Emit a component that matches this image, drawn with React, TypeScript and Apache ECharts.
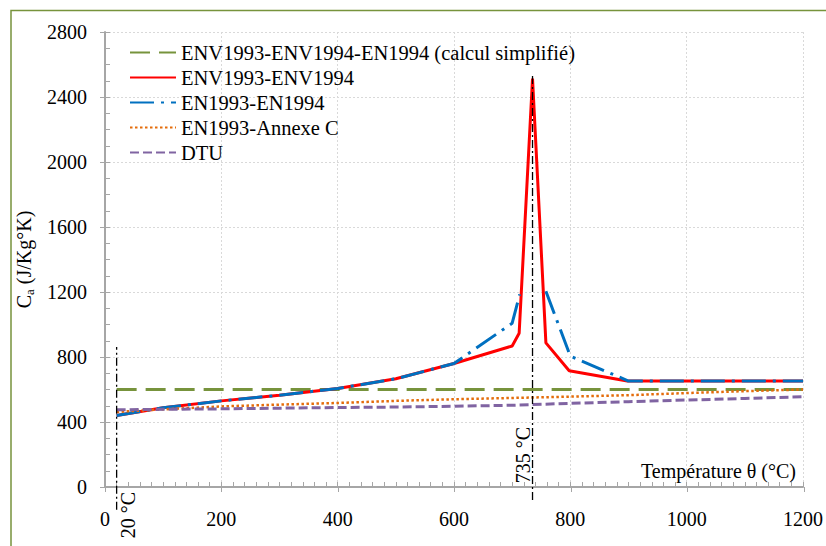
import React, { useEffect, useRef } from "react";
import * as echarts from "echarts";

const FONT = "'Liberation Serif', 'Times New Roman', serif";

// Legend names
const seriesNames = [
  "ENV1993-ENV1994-EN1994 (calcul simplifié)",
  "ENV1993-ENV1994",
  "EN1993-EN1994",
  "EN1993-Annexe C",
  "DTU",
];

// ENV1993-ENV1994-EN1994 (calcul simplifié)
const simplifiedX = [20, 1200];
const simplifiedY = [600, 600];

// ENV1993-ENV1994
const envX = [20, 100, 200, 300, 400, 500, 600, 700, 712, 735, 758, 798, 898, 1200];
const envY = [440, 488, 530, 565, 606, 666, 760, 868, 946, 2513, 887, 715, 652, 652];

// EN1993-EN1994
const enX = [20, 100, 200, 300, 400, 500, 600, 700, 713, 735, 758, 800, 900, 1200];
const enY = [440, 488, 530, 565, 606, 666, 760, 1008, 1186, null, 1205, 805, 652, 652];

// EN1993-Annexe C
const annexeX = [20, 100, 200, 300, 400, 500, 600, 700, 800, 900, 1000, 1100, 1200];
const annexeY = [462, 478, 496, 507, 517, 530, 540, 548, 556, 565, 578, 590, 600];

// DTU
const dtuX = [20, 100, 200, 300, 400, 500, 600, 700, 800, 900, 1000, 1100, 1200];
const dtuY = [475, 478, 481, 485, 489, 492, 497, 503, 515, 525, 535, 545, 555];

// Vertical reference lines (20 °C and 735 °C)
const markerX = [20, 735];
const markerBottom = [-140, -80];
const markerTop = [862, 2530];
const markerLabels = ["20 °C", "735 °C"];

// Axes
const xMin = 0, xMax = 1200, xInterval = 200;
const yMin = 0, yMax = 2800, yInterval = 400;

const pair = (xs: number[], ys: (number | null)[]) => xs.map((x, i) => [x, ys[i]]);

export default function App() {
  const ref = useRef<HTMLDivElement>(null);
  useEffect(() => {
    const chart = echarts.init(ref.current!, null, { renderer: "svg" });
    const gridBox = { left: 105, right: 22, top: 32, bottom: 59 };
    const axisColor = "#A6A6A6";
    const lineSeries = (name: string, data: any[], color: string, width: number, type: any) => ({
      name,
      type: "line",
      data,
      symbol: "none",
      showSymbol: false,
      connectNulls: false,
      xAxisIndex: 0,
      yAxisIndex: 0,
      lineStyle: { color, width, type, cap: "butt" },
      itemStyle: { color },
      emphasis: { disabled: true },
    });
    const plain = (v: number) => String(v);
    const option: any = {
      animation: false,
      backgroundColor: "#ffffff",
      textStyle: { fontFamily: FONT },
      grid: [
        { ...gridBox, containLabel: false },
        { ...gridBox, containLabel: false },
      ],
      legend: {
        orient: "vertical",
        left: 129,
        top: 42,
        padding: 0,
        itemWidth: 46,
        itemHeight: 14,
        itemGap: 4,
        data: seriesNames,
        selectedMode: false,
        itemStyle: { color: "transparent", opacity: 0, borderWidth: 0 },
        textStyle: { fontFamily: FONT, fontSize: 20.5, color: "#000", lineHeight: 20 },
      },
      xAxis: [
        {
          type: "value",
          gridIndex: 0,
          min: xMin,
          max: xMax,
          interval: xInterval,
          axisLine: { show: true, onZero: false, lineStyle: { color: axisColor, width: 2 } },
          axisTick: { show: true, inside: true, length: 5, lineStyle: { color: axisColor, width: 1 } },
          minorTick: { show: true, splitNumber: 10, length: 5, lineStyle: { color: axisColor, width: 1 } },
          axisLabel: { color: "#000", fontFamily: FONT, fontSize: 20, margin: 22, formatter: plain },
          splitLine: { show: true, lineStyle: { color: "#D9D9D9", width: 1, type: [2, 2] } },
        },
        {
          type: "value",
          gridIndex: 1,
          min: xMin,
          max: xMax,
          interval: xInterval,
          axisLine: { show: false },
          axisTick: { show: true, inside: false, length: 5, lineStyle: { color: axisColor, width: 1 } },
          axisLabel: { show: false },
          splitLine: { show: false },
        },
      ],
      yAxis: [
        {
          type: "value",
          gridIndex: 0,
          min: yMin,
          max: yMax,
          interval: yInterval,
          name: "{c|C}{s|a}{c| (J/Kg°K)}",
          nameLocation: "middle",
          nameGap: 63,
          nameRotate: 90,
          nameTextStyle: {
            fontFamily: FONT,
            rich: {
              c: { fontFamily: FONT, fontSize: 20, color: "#000", lineHeight: 24 },
              s: { fontFamily: FONT, fontSize: 13, color: "#000", lineHeight: 24, verticalAlign: "bottom" },
            },
          },
          axisLine: { show: true, onZero: false, lineStyle: { color: axisColor, width: 2 } },
          axisTick: { show: true, inside: true, length: 5, lineStyle: { color: axisColor, width: 1 } },
          minorTick: { show: true, splitNumber: 4, length: 5, lineStyle: { color: axisColor, width: 1 } },
          axisLabel: { color: "#000", fontFamily: FONT, fontSize: 20, margin: 18, formatter: plain },
          splitLine: { show: true, lineStyle: { color: "#D9D9D9", width: 1, type: [2, 2] } },
        },
        {
          type: "value",
          gridIndex: 1,
          min: yMin,
          max: yMax,
          interval: yInterval,
          axisLine: { show: false },
          axisTick: { show: true, inside: false, length: 5, lineStyle: { color: axisColor, width: 1 } },
          axisLabel: { show: false },
          splitLine: { show: false },
        },
      ],
      series: [
        lineSeries(seriesNames[0], pair(simplifiedX, simplifiedY), "#77933C", 3, [20, 9]),
        lineSeries(seriesNames[1], pair(envX, envY), "#FF0000", 3, "solid"),
        lineSeries(seriesNames[2], pair(enX, enY), "#0070C0", 3, [24, 7, 3, 7]),
        lineSeries(seriesNames[3], pair(annexeX, annexeY), "#E46C0A", 2.5, [2.5, 2.5]),
        lineSeries(seriesNames[4], pair(dtuX, dtuY), "#8064A2", 3, [9, 4]),
        ...markerX.map((x, i) => ({
          name: "marker" + i,
          type: "line",
          data: [
            [x, markerBottom[i]],
            [x, markerTop[i]],
          ],
          symbol: "none",
          clip: false,
          xAxisIndex: 0,
          yAxisIndex: 0,
          lineStyle: { color: "#000", width: 1.3, type: [8, 3, 2, 3] },
          emphasis: { disabled: true },
          z: 5,
        })),
      ],
    };
    chart.setOption(option);

    const p0 = chart.convertToPixel({ xAxisIndex: 0, yAxisIndex: 0 }, [markerX[0], 0]) as number[];
    const p1 = chart.convertToPixel({ xAxisIndex: 0, yAxisIndex: 0 }, [markerX[1], 0]) as number[];
    const pEnd = chart.convertToPixel({ xAxisIndex: 0, yAxisIndex: 0 }, [xMax, 0]) as number[];
    chart.setOption({
      graphic: [
        {
          type: "rect",
          shape: { x: 11, y: 10.5, width: 900, height: 600 },
          style: { fill: "none", stroke: "#77933C", lineWidth: 1.5 },
          silent: true,
          z: 100,
        },
        {
          type: "text",
          x: p0[0] + 11.5,
          y: p0[1] + 28,
          rotation: Math.PI / 2,
          style: { text: markerLabels[0], fontFamily: FONT, fontSize: 20, fill: "#000", align: "center", verticalAlign: "middle" },
          silent: true,
        },
        {
          type: "text",
          x: p1[0] - 9.5,
          y: p1[1] - 32,
          rotation: Math.PI / 2,
          style: { text: markerLabels[1], fontFamily: FONT, fontSize: 20, fill: "#000", align: "center", verticalAlign: "middle" },
          silent: true,
        },
        {
          type: "text",
          x: pEnd[0] - 7,
          y: pEnd[1] - 16,
          style: { text: "Température θ (°C)", fontFamily: FONT, fontSize: 20, fill: "#000", align: "right", verticalAlign: "middle" },
          silent: true,
        },
      ],
    });
    return () => chart.dispose();
  }, []);
  return <div ref={ref} style={{ position: "fixed", left: 0, top: 0, width: 826, height: 546 }} />;
}
